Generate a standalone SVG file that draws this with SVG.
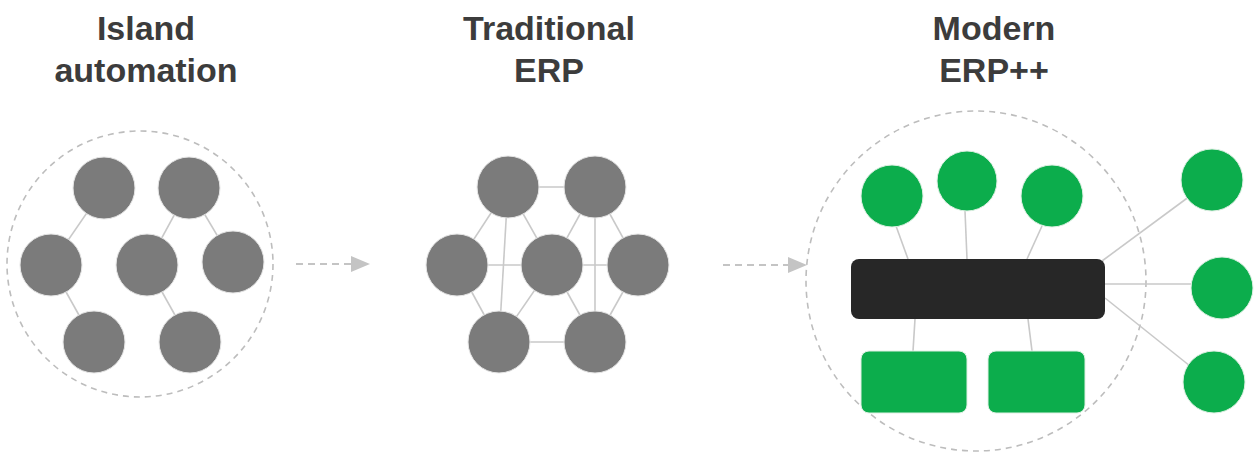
<svg xmlns="http://www.w3.org/2000/svg" width="1257" height="459" viewBox="0 0 1257 459">
  <style>
    .title { font-family: "Liberation Sans", Arial, sans-serif; font-weight: bold; font-size: 34px; fill: #3c3c3c; text-anchor: middle; }
    .boundary { fill: none; stroke: #bdbdbd; stroke-width: 1.6; stroke-dasharray: 6 5; }
    .gray { fill: #7b7b7b; stroke: #e6e6e6; stroke-width: 1; }
    .green { fill: #0cad4c; stroke: #dff0e4; stroke-width: 1; }
    .hub { fill: #272727; }
    .link { stroke: #c9c9c9; stroke-width: 1.6; fill: none; }
    .flow { stroke: #c4c4c4; stroke-width: 2; stroke-dasharray: 7 5; fill: none; }
  </style>
  <defs>
    <marker id="tri" viewBox="0 0 19 16" refX="0" refY="8" markerWidth="19" markerHeight="16" markerUnits="userSpaceOnUse" orient="auto">
      <path d="M0,0 L19,8 L0,16 z" fill="#c4c4c4"/>
    </marker>
  </defs>

  <rect width="1257" height="459" fill="#ffffff"/>

  <!-- column titles -->
  <g id="title-island">
    <text class="title" x="146" y="40">Island</text>
    <text class="title" x="146" y="82">automation</text>
  </g>
  <g id="title-traditional">
    <text class="title" x="549" y="40">Traditional</text>
    <text class="title" x="549" y="82">ERP</text>
  </g>
  <g id="title-modern">
    <text class="title" x="994" y="40">Modern</text>
    <text class="title" x="994" y="82">ERP++</text>
  </g>

  <!-- dashed boundaries -->
  <g id="boundary-island"><circle class="boundary" cx="140" cy="264" r="133"/></g>
  <g id="boundary-modern"><circle class="boundary" cx="976" cy="281" r="170"/></g>

  <!-- connectors -->
  <g id="connectors">
    <!-- island automation: a few isolated links -->
    <line class="link" x1="104" y1="188" x2="51" y2="265"/>
    <line class="link" x1="189" y1="188" x2="147" y2="265"/>
    <line class="link" x1="189" y1="188" x2="233" y2="262"/>
    <line class="link" x1="51" y1="265" x2="94" y2="342"/>
    <line class="link" x1="147" y1="265" x2="190" y2="342"/>

    <!-- traditional ERP: dense mesh -->
    <line class="link" x1="508" y1="187" x2="595" y2="187"/>
    <line class="link" x1="508" y1="187" x2="457" y2="265"/>
    <line class="link" x1="508" y1="187" x2="499" y2="342"/>
    <line class="link" x1="508" y1="187" x2="552" y2="265"/>
    <line class="link" x1="595" y1="187" x2="552" y2="265"/>
    <line class="link" x1="595" y1="187" x2="595" y2="342"/>
    <line class="link" x1="595" y1="187" x2="638" y2="265"/>
    <line class="link" x1="457" y1="265" x2="552" y2="265"/>
    <line class="link" x1="552" y1="265" x2="638" y2="265"/>
    <line class="link" x1="457" y1="265" x2="499" y2="342"/>
    <line class="link" x1="552" y1="265" x2="499" y2="342"/>
    <line class="link" x1="552" y1="265" x2="595" y2="342"/>
    <line class="link" x1="638" y1="265" x2="595" y2="342"/>
    <line class="link" x1="499" y1="342" x2="595" y2="342"/>

    <!-- modern ERP++: everything attaches to the central platform -->
    <line class="link" x1="896" y1="226" x2="908" y2="259"/>
    <line class="link" x1="965" y1="211" x2="967" y2="259"/>
    <line class="link" x1="1042" y1="226" x2="1027" y2="259"/>
    <line class="link" x1="915" y1="319" x2="913" y2="351"/>
    <line class="link" x1="1028" y1="319" x2="1032" y2="351"/>
    <line class="link" x1="1102" y1="261" x2="1190" y2="196"/>
    <line class="link" x1="1105" y1="284" x2="1192" y2="284"/>
    <line class="link" x1="1105" y1="298" x2="1190" y2="366"/>

    <!-- progression arrows -->
    <line class="flow" x1="296" y1="264" x2="351" y2="264" marker-end="url(#tri)"/>
    <line class="flow" x1="723" y1="265" x2="788" y2="265" marker-end="url(#tri)"/>
  </g>

  <!-- island automation nodes -->
  <g id="island-1"><circle class="gray" cx="104" cy="188" r="31"/></g>
  <g id="island-2"><circle class="gray" cx="189" cy="188" r="31"/></g>
  <g id="island-3"><circle class="gray" cx="51" cy="265" r="31"/></g>
  <g id="island-4"><circle class="gray" cx="147" cy="265" r="31"/></g>
  <g id="island-5"><circle class="gray" cx="233" cy="262" r="31"/></g>
  <g id="island-6"><circle class="gray" cx="94" cy="342" r="31"/></g>
  <g id="island-7"><circle class="gray" cx="190" cy="342" r="31"/></g>

  <!-- traditional ERP nodes -->
  <g id="erp-1"><circle class="gray" cx="508" cy="187" r="31"/></g>
  <g id="erp-2"><circle class="gray" cx="595" cy="187" r="31"/></g>
  <g id="erp-3"><circle class="gray" cx="457" cy="265" r="31"/></g>
  <g id="erp-4"><circle class="gray" cx="552" cy="265" r="31"/></g>
  <g id="erp-5"><circle class="gray" cx="638" cy="265" r="31"/></g>
  <g id="erp-6"><circle class="gray" cx="499" cy="342" r="31"/></g>
  <g id="erp-7"><circle class="gray" cx="595" cy="342" r="31"/></g>

  <!-- modern ERP++ nodes -->
  <g id="platform"><rect class="hub" x="851" y="259" width="254" height="60" rx="8"/></g>
  <g id="app-1"><circle class="green" cx="892" cy="196" r="31"/></g>
  <g id="app-2"><circle class="green" cx="967" cy="181" r="30"/></g>
  <g id="app-3"><circle class="green" cx="1052" cy="196" r="31"/></g>
  <g id="module-1"><rect class="green" x="861" y="351" width="106" height="62" rx="8"/></g>
  <g id="module-2"><rect class="green" x="988" y="351" width="97" height="62" rx="8"/></g>
  <g id="ext-1"><circle class="green" cx="1212" cy="180" r="31"/></g>
  <g id="ext-2"><circle class="green" cx="1222" cy="288" r="31"/></g>
  <g id="ext-3"><circle class="green" cx="1214" cy="382" r="31"/></g>
</svg>
